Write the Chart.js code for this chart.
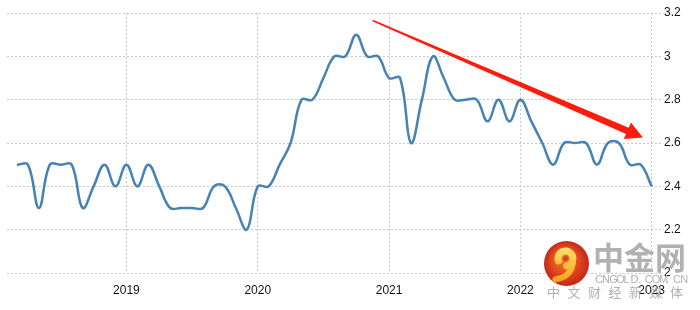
<!DOCTYPE html>
<html>
<head>
<meta charset="utf-8">
<script src="https://cdn.jsdelivr.net/npm/chart.js@4.4.0/dist/chart.umd.min.js"></script>
<style>
  html, body { margin: 0; padding: 0; background: #fff; }
  #wrap { position: relative; width: 700px; height: 310px; }
</style>
</head>
<body>
<div id="wrap"><canvas id="grafico" width="700" height="310"></canvas></div>
<script>
// monthly values, Mar 2018 .. Jan 2023
const meses = [
  '2018-03','2018-04','2018-05','2018-06','2018-07','2018-08','2018-09','2018-10','2018-11','2018-12',
  '2019-01','2019-02','2019-03','2019-04','2019-05','2019-06','2019-07','2019-08','2019-09','2019-10','2019-11','2019-12',
  '2020-01','2020-02','2020-03','2020-04','2020-05','2020-06','2020-07','2020-08','2020-09','2020-10','2020-11','2020-12',
  '2021-01','2021-02','2021-03','2021-04','2021-05','2021-06','2021-07','2021-08','2021-09','2021-10','2021-11','2021-12',
  '2022-01','2022-02','2022-03','2022-04','2022-05','2022-06','2022-07','2022-08','2022-09','2022-10','2022-11','2022-12',
  '2023-01'
];
const valores = [
  2.5, 2.5, 2.3, 2.5, 2.5, 2.5, 2.3, 2.4, 2.5, 2.4,
  2.5, 2.4, 2.5, 2.4, 2.3, 2.3, 2.3, 2.3, 2.4, 2.4, 2.3, 2.2,
  2.4, 2.4, 2.5, 2.6, 2.8, 2.8, 2.9, 3.0, 3.0, 3.1, 3.0, 3.0,
  2.9, 2.9, 2.6, 2.8, 3.0, 2.9, 2.8, 2.8, 2.8, 2.7, 2.8, 2.7,
  2.8, 2.7, 2.6, 2.5, 2.6, 2.6, 2.6, 2.5, 2.6, 2.6, 2.5, 2.5,
  2.4
];
const anos = ['2019', '2020', '2021', '2022', '2023'];
const yTicks = [2, 2.2, 2.4, 2.6, 2.8, 3, 3.2];

// red trend arrow, in data units (month index, value)
const setaInicio = { x: 32.5, y: 3.165 };
const setaFim = { x: 57.2, y: 2.625 };

// index of each January in the series
const indicesAno = anos.map(a => meses.indexOf(a + '-01'));

const pontos = valores.map((v, i) => ({ x: i, y: v }));

const setaPlugin = {
  id: 'seta',
  afterDatasetsDraw(chart) {
    const ctx = chart.ctx;
    const xs = chart.scales.x, ys = chart.scales.y;
    const x0 = xs.getPixelForValue(setaInicio.x), y0 = ys.getPixelForValue(setaInicio.y);
    const x1 = xs.getPixelForValue(setaFim.x), y1 = ys.getPixelForValue(setaFim.y);
    const dx = x1 - x0, dy = y1 - y0;
    const len = Math.sqrt(dx * dx + dy * dy);
    const ux = dx / len, uy = dy / len;
    const nx = -uy, ny = ux;
    const headLen = 17, headW = 9, w0 = 0.8, w1 = 3.4;
    const bx = x1 - ux * headLen, by = y1 - uy * headLen;
    ctx.save();
    ctx.fillStyle = 'rgb(255,28,12)';
    ctx.beginPath();
    ctx.moveTo(x0 + nx * w0, y0 + ny * w0);
    ctx.lineTo(bx + nx * w1, by + ny * w1);
    ctx.lineTo(bx + nx * headW, by + ny * headW);
    ctx.lineTo(x1, y1);
    ctx.lineTo(bx - nx * headW, by - ny * headW);
    ctx.lineTo(bx - nx * w1, by - ny * w1);
    ctx.lineTo(x0 - nx * w0, y0 - ny * w0);
    ctx.closePath();
    ctx.fill();
    ctx.restore();
  }
};

const marcaPlugin = {
  id: 'marca',
  afterDraw(chart) {
    const ctx = chart.ctx;
    ctx.save();
    // logo circle
    const cx = 566.5, cy = 263.5, r = 22.5;
    const g = ctx.createRadialGradient(cx - 4, cy - 6, 2, cx, cy, r);
    g.addColorStop(0, '#f47a22');
    g.addColorStop(0.6, '#e0461c');
    g.addColorStop(1, '#c42619');
    ctx.fillStyle = g;
    ctx.beginPath();
    ctx.arc(cx, cy, r, 0, Math.PI * 2);
    ctx.fill();
    // yellow swirl
    const gy = ctx.createLinearGradient(cx, cy - 16, cx, cy + 18);
    gy.addColorStop(0, '#ffe06a');
    gy.addColorStop(1, '#f5a21e');
    ctx.strokeStyle = gy;
    ctx.lineCap = 'round';
    ctx.lineWidth = 7;
    ctx.beginPath();
    ctx.arc(cx - 1, cy - 5, 7.5, Math.PI * 0.9, Math.PI * 2.45);
    ctx.stroke();
    ctx.lineWidth = 6;
    ctx.beginPath();
    ctx.moveTo(cx + 6.5, cy - 3);
    ctx.quadraticCurveTo(cx + 6, cy + 13, cx - 11, cy + 16);
    ctx.stroke();
    ctx.fillStyle = '#d8421b';
    ctx.beginPath();
    ctx.arc(cx - 1, cy - 5, 2.5, 0, Math.PI * 2);
    ctx.fill();

    // text
    ctx.globalAlpha = 0.85;
    ctx.fillStyle = '#a3a3a3';
    ctx.textBaseline = 'alphabetic';
    ctx.font = 'bold 31px "Noto Sans CJK SC"';
    ctx.fillText('中金网', 593, 269);
    ctx.font = '11px "Liberation Sans"';
    const cn = 'CNGOLD.COM.CN';
    for (let i = 0; i < cn.length; i++) {
      ctx.fillText(cn[i], 595 + i * 7.1, 283);
    }
    ctx.font = '13px "Noto Sans CJK SC"';
    const zh = '中文财经新媒体';
    for (let i = 0; i < zh.length; i++) {
      ctx.fillText(zh[i], 547 + i * 20.5, 297);
    }
    ctx.restore();
  }
};

const ctxGrafico = document.getElementById('grafico').getContext('2d');
const grafico = new Chart(ctxGrafico, {
  type: 'line',
  data: {
    datasets: [{
      data: pontos,
      borderColor: '#4682b4',
      borderWidth: 2.5,
      pointRadius: 0,
      tension: 0.4,
      fill: false
    }]
  },
  options: {
    responsive: false,
    animation: false,
    layout: { padding: { left: 7, top: 13, right: 0, bottom: 0 } },
    plugins: {
      legend: { display: false },
      tooltip: { enabled: false }
    },
    scales: {
      x: {
        type: 'linear',
        min: -0.914,
        max: 58.85,
        afterBuildTicks: (scale) => {
          scale.ticks = indicesAno.map(v => ({ value: v }));
        },
        afterFit: (scale) => { scale.height = 37; },
        ticks: {
          autoSkip: false,
          maxRotation: 0,
          padding: 10,
          color: '#111',
          font: { family: 'Liberation Sans', size: 12 },
          callback: (v) => anos[indicesAno.indexOf(v)] || ''
        },
        grid: {
          color: '#c8c8c8',
          drawTicks: false,
          lineWidth: 1
        },
        border: { display: false, dash: [2, 2] }
      },
      y: {
        position: 'right',
        min: 2,
        max: 3.2,
        afterBuildTicks: (scale) => {
          scale.ticks = yTicks.map(v => ({ value: v }));
        },
        afterFit: (scale) => { scale.width = 39; },
        ticks: {
          padding: 3,
          color: '#111',
          font: { family: 'Liberation Sans', size: 12 },
          callback: (v) => String(v)
        },
        grid: {
          color: '#c8c8c8',
          drawTicks: false,
          lineWidth: 1
        },
        border: { display: false, dash: [2, 2] }
      }
    }
  },
  plugins: [setaPlugin, marcaPlugin]
});
</script>
</body>
</html>
